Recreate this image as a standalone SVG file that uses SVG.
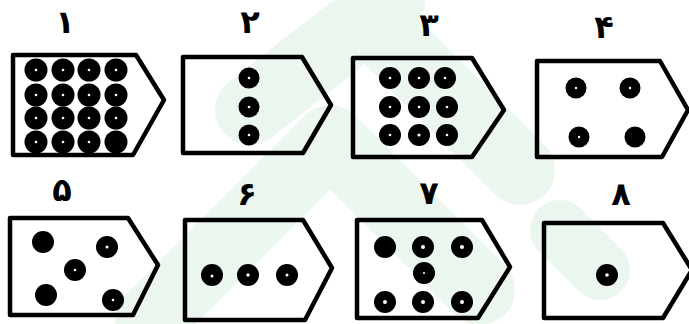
<svg xmlns="http://www.w3.org/2000/svg" width="689" height="324" viewBox="0 0 689 324">
<style>
.shape{fill:none;stroke:#000;stroke-width:4.5;stroke-linejoin:round}
.d{fill:#000}
.c{fill:#fff}
.lbl{font-family:"DejaVu Sans",sans-serif;font-weight:bold;font-size:32px;text-anchor:middle;fill:#000}
.wm{fill:none;stroke:#ebf6ef;stroke-linecap:round}
</style>
<rect width="689" height="324" fill="#fff"/>
<g id="watermark">
<path class="wm" d="M250 110 L390 0" stroke-width="70"/>
<path class="wm" d="M380 30 L520 170" stroke-width="70"/>
<path class="wm" d="M150 320 L330 140" stroke-width="70"/>
<path class="wm" d="M330 140 L480 290" stroke-width="70"/>
<path class="wm" d="M560 230 L600 270" stroke-width="60"/>
</g>
<g id="n1">
<text class="lbl" x="65" y="33">۱</text>
<path class="shape" d="M13 55 H136 L164 100 L133 155 H13 Z"/>
<g class="d"><circle cx="36" cy="70" r="11.5"/><circle cx="63" cy="70" r="11.5"/><circle cx="89" cy="70" r="11.5"/><circle cx="116" cy="70" r="11.5"/>
<circle cx="36" cy="95" r="11.5"/><circle cx="63" cy="95" r="11.5"/><circle cx="89" cy="95" r="11.5"/><circle cx="116" cy="95" r="11.5"/>
<circle cx="36" cy="118" r="11.5"/><circle cx="63" cy="118" r="11.5"/><circle cx="89" cy="118" r="11.5"/><circle cx="116" cy="118" r="11.5"/>
<circle cx="36" cy="142" r="11.5"/><circle cx="63" cy="142" r="11.5"/><circle cx="89" cy="142" r="11.5"/><circle cx="116" cy="142" r="11.5"/></g>
<g class="c"><circle cx="36" cy="70" r="1.3"/><circle cx="63" cy="70" r="1.3"/><circle cx="89" cy="70" r="1.3"/><circle cx="116" cy="70" r="1.3"/>
<circle cx="36" cy="95" r="1.3"/><circle cx="63" cy="95" r="1.3"/><circle cx="89" cy="95" r="1.3"/><circle cx="116" cy="95" r="1.3"/>
<circle cx="36" cy="118" r="1.3"/><circle cx="63" cy="118" r="1.3"/><circle cx="89" cy="118" r="1.3"/><circle cx="116" cy="118" r="1.3"/>
<circle cx="36" cy="142" r="1.3"/><circle cx="63" cy="142" r="1.3"/><circle cx="89" cy="142" r="1.3"/></g>
</g>
<g id="n2">
<text class="lbl" x="250" y="33">۲</text>
<path class="shape" d="M183 57 H302 L331 105 L303 153 H183 Z"/>
<g class="d"><circle cx="249" cy="78" r="10.5"/><circle cx="249" cy="107" r="10.5"/><circle cx="249" cy="135" r="10.5"/></g>
<g class="c"><circle cx="249" cy="78" r="1.3"/><circle cx="249" cy="107" r="1.3"/><circle cx="249" cy="135" r="1.3"/></g>
</g>
<g id="n3">
<text class="lbl" x="429" y="36">۳</text>
<path class="shape" d="M353 58 H472 L504 110 L472 157 H353 Z"/>
<g class="d"><circle cx="390" cy="78" r="11"/><circle cx="419" cy="78" r="11"/><circle cx="445" cy="78" r="11"/>
<circle cx="390" cy="107" r="11"/><circle cx="419" cy="107" r="11"/><circle cx="447" cy="107" r="11"/>
<circle cx="390" cy="135" r="11"/><circle cx="419" cy="135" r="11"/><circle cx="447" cy="135" r="11"/></g>
<g class="c"><circle cx="390" cy="78" r="1.3"/><circle cx="419" cy="78" r="1.3"/><circle cx="445" cy="78" r="1.3"/>
<circle cx="390" cy="107" r="1.3"/><circle cx="419" cy="107" r="1.3"/><circle cx="447" cy="107" r="1.3"/>
<circle cx="390" cy="135" r="1.3"/><circle cx="419" cy="135" r="1.6"/><circle cx="447" cy="135" r="1.3"/></g>
</g>
<g id="n4">
<text class="lbl" x="604" y="38">۴</text>
<path class="shape" d="M537 61 H660 L688 110 L662 157 H537 Z"/>
<g class="d"><circle cx="576" cy="88" r="10.5"/><circle cx="630" cy="88" r="10.5"/><circle cx="579" cy="137" r="10.5"/><circle cx="635" cy="137" r="10.5"/></g>
<g class="c"><circle cx="576" cy="88" r="1.2"/><circle cx="630" cy="88" r="1.2"/><circle cx="579" cy="137" r="1.2"/></g>
</g>
<g id="n5">
<text class="lbl" x="62" y="201">۵</text>
<path class="shape" d="M10 218 H128 L158 265 L133 315 H10 Z"/>
<g class="d"><circle cx="43" cy="242" r="11"/><circle cx="107" cy="247" r="11"/><circle cx="75" cy="270" r="11"/><circle cx="46" cy="295" r="11"/><circle cx="113" cy="300" r="11"/></g>
<g class="c"><circle cx="107" cy="247" r="1.5"/><circle cx="75" cy="270" r="1.3"/><circle cx="113" cy="300" r="1.3"/></g>
</g>
<g id="n6">
<text class="lbl" x="247" y="205">۶</text>
<path class="shape" d="M185 220 H303 L332 268 L305 320 H185 Z"/>
<g class="d"><circle cx="212" cy="275" r="11"/><circle cx="248" cy="275" r="11"/><circle cx="287" cy="275" r="11"/></g>
<g class="c"><circle cx="212" cy="276" r="1.5"/><circle cx="248" cy="275" r="1.7"/><circle cx="287" cy="275" r="1.5"/></g>
</g>
<g id="n7">
<text class="lbl" x="429" y="204">۷</text>
<path class="shape" d="M357 220 H482 L510 267 L478 318 H357 Z"/>
<g class="d"><circle cx="385" cy="247" r="11"/><circle cx="423" cy="247" r="11"/><circle cx="462" cy="247" r="11"/><circle cx="424" cy="273" r="11"/><circle cx="385" cy="302" r="11"/><circle cx="423" cy="302" r="11"/><circle cx="462" cy="302" r="11"/></g>
<g class="c"><circle cx="423" cy="247" r="2"/><circle cx="462" cy="247" r="2"/><circle cx="424" cy="273" r="1"/><circle cx="385" cy="302" r="2"/><circle cx="423" cy="302" r="2"/><circle cx="462" cy="302" r="2"/></g>
</g>
<g id="n8">
<text class="lbl" x="621" y="205">۸</text>
<path class="shape" d="M544 223 H663 L692 270 L663 318 H544 Z"/>
<circle class="d" cx="607" cy="275" r="11"/>
<circle class="c" cx="607" cy="275" r="1.8"/>
</g>
</svg>
